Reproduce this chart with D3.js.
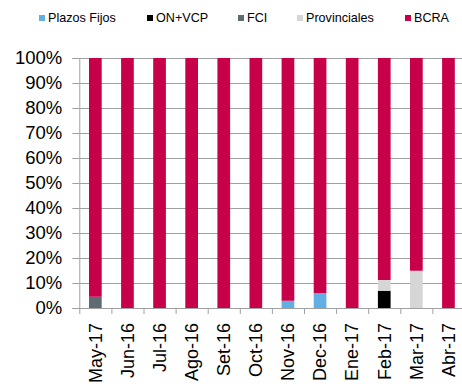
<!DOCTYPE html>
<html><head><meta charset="utf-8">
<script src="https://cdn.jsdelivr.net/npm/d3@7"></script>
<style>body{margin:0;background:#fff}svg{display:block;font-family:"Liberation Sans",Arial,sans-serif}</style>
</head><body><svg id="c" width="462" height="388"></svg>
<script>
const categories = ["May-17","Jun-16","Jul-16","Ago-16","Set-16","Oct-16","Nov-16","Dec-16","Ene-17","Feb-17","Mar-17","Abr-17"];
const plazosFijos = [0,0,0,0,0,0,2.9,6.0,0,0,0,0];
const onVcp       = [0,0,0,0,0,0,0,0,0,6.9,0,0];
const fci         = [4.5,0,0,0,0,0,0,0,0,0,0,0];
const provinciales= [0,0,0,0,0,0,0,0,0,4.3,14.9,0];
const bcra        = [95.5,100,100,100,100,100,97.1,94.0,100,88.8,85.1,100];
const seriesNames = ["Plazos Fijos","ON+VCP","FCI","Provinciales","BCRA"];
const seriesColors = ["#62b0e3","#000000","#5f6b73","#d6d6d6","#c8004a"];
const yTicks = [0,10,20,30,40,50,60,70,80,90,100];

(function(){
const svg = d3.select("#c");
const L = 79.3, R = 464.5, T = 58, B = 308;
const xb = d3.scaleBand().domain(categories).range([L, R]);
const y = d3.scaleLinear().domain([0,100]).range([B, T]);

const seriesVals = [plazosFijos, onVcp, fci, provinciales, bcra];
const table = categories.map((c,i)=>{const o={cat:c}; seriesNames.forEach((s,j)=>o[s]=seriesVals[j][i]); return o;});
const stack = d3.stack().keys(seriesNames)(table);

svg.append("g").selectAll("line").data(yTicks).join("line")
  .attr("x1", L).attr("x2", 462).attr("y1", d=>y(d)+0.5).attr("y2", d=>y(d)+0.5)
  .attr("stroke", "#a0a0a0").attr("stroke-width", 1);

svg.append("g").selectAll("g").data(stack).join("g")
  .attr("fill", (d,i)=>seriesColors[i])
  .selectAll("rect").data(d=>d).join("rect")
  .attr("x", d=>xb(d.data.cat) + (xb.bandwidth()-12.7)/2)
  .attr("width", 12.7)
  .attr("y", d=>y(d[1]))
  .attr("height", d=>Math.max(0, y(d[0])-y(d[1])));

const ya = svg.append("g").attr("transform", `translate(${L},0)`)
  .call(d3.axisLeft(y).tickValues(yTicks).tickFormat(d=>d+"%").tickSize(7).tickPadding(10));
ya.select(".domain").attr("stroke","#a0a0a0");
ya.selectAll(".tick line").attr("stroke","#a0a0a0");
ya.selectAll("text").attr("font-size","18.5px").attr("fill","#000").attr("font-family","Liberation Sans, Arial, sans-serif");

const xa = svg.append("g").attr("transform", `translate(0,${B})`)
  .call(d3.axisBottom(xb).tickSize(0).tickPadding(0));
xa.select(".domain").remove();
xa.selectAll(".tick text").attr("font-size","18px").attr("fill","#000")
  .attr("font-family","Liberation Sans, Arial, sans-serif")
  .attr("transform","rotate(-90)").attr("text-anchor","end").attr("dy","0.35em").attr("x",-15).attr("y",0);
svg.append("g").selectAll("line").data(categories).join("line")
  .attr("x1", d=>xb(d)+0.5).attr("x2", d=>xb(d)+0.5).attr("y1", B).attr("y2", B+6)
  .attr("stroke","#a0a0a0");

const legX = [39,147,238,297,405];
const lg = svg.append("g").selectAll("g").data(seriesNames).join("g")
  .attr("transform",(d,i)=>`translate(${legX[i]},15)`);
lg.append("rect").attr("width",6).attr("height",6).attr("fill",(d,i)=>seriesColors[i]);
lg.append("text").attr("x",9).attr("y",7).text(d=>d).attr("font-size","12.6px").attr("fill","#000");
})();
</script></body></html>
